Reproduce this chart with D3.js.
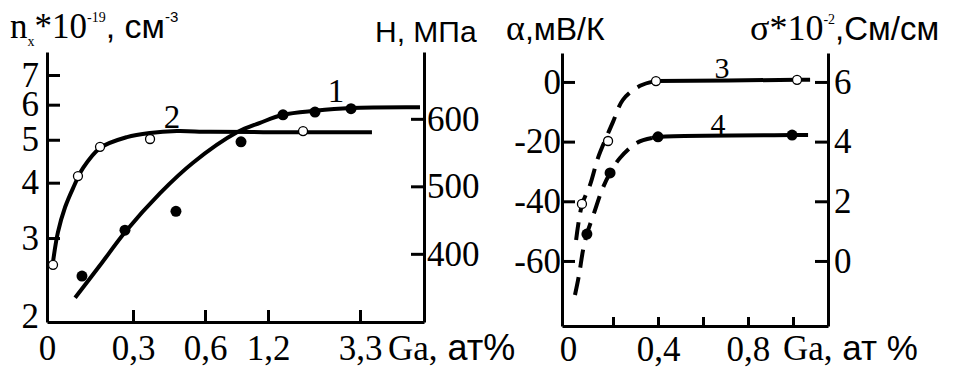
<!DOCTYPE html>
<html>
<head>
<meta charset="utf-8">
<script src="https://cdn.jsdelivr.net/npm/d3@7"></script>
<style>
  body { margin: 0; background: #fff; }
</style>
</head>
<body>
<div id="chart"></div>
<script>
var SERIF = '"Liberation Serif", "Times New Roman", serif';
var SANS = '"Liberation Sans", Arial, sans-serif';

// ---- left panel: n_x (curve 2) and H (curve 1) vs Ga, at%
var gaTicks = [0, 0.3, 0.6, 1.2, 3.3];
var gaTickLabels = ["0", "0,3", "0,6", "1,2", "3,3"];
var nTicks = [2, 3, 4, 5, 6, 7];
var hTicks = [400, 500, 600];

// curve 2: n_x*10^-19 (open circles)
var c2Ga = [0.021, 0.108, 0.185, 0.371, 2.0];
var c2N = [2.61, 4.14, 4.82, 5.02, 5.23];
var c2LineGa = [0.021, 0.038, 0.063, 0.091, 0.126, 0.185, 0.279, 0.371, 0.483, 0.648, 1.93, 3.58];
var c2LineN = [2.65, 3.09, 3.52, 3.89, 4.32, 4.79, 5.07, 5.18, 5.23, 5.21, 5.2, 5.2];

// curve 1: H, MPa (filled points)
var c1Ga = [0.122, 0.272, 0.479, 0.943, 1.542, 2.273, 3.095];
var c1H = [367, 435, 463, 566, 606, 610, 615];
var c1LineGa = [0.098, 0.185, 0.272, 0.413, 0.55, 0.905, 1.124, 1.542, 2.273, 3.095, 4.706];
var c1LineH = [335, 383, 432, 490, 535, 580, 594, 606, 612, 616, 617];

// ---- right panel: alpha (curve 4) and sigma (curve 3) vs Ga, at %
var ga2Ticks = [0, 0.2, 0.4, 0.6, 0.8, 1.0];
var ga2TickLabels = ["0", "", "0,4", "", "0,8", ""];
var alphaTicks = [0, -20, -40, -60];
var sigmaTicks = [0, 2, 4, 6];

// curve 3: sigma*10^-2 (open circles), dashed up to 0.391
var c3Ga = [0.062, 0.178, 0.391, 1.018];
var c3S = [1.91, 4.02, 6.03, 6.07];
var c3LineGa = [0.036, 0.062, 0.098, 0.133, 0.169, 0.2, 0.244, 0.32, 0.391, 1.018, 1.076];
var c3LineS = [0.7, 1.88, 2.55, 3.45, 4.12, 4.66, 5.4, 5.87, 6.03, 6.07, 6.07];
var c3DashEnd = 0.391;

// curve 4: alpha, mV/K (filled points), dashed up to 0.373
var c4Ga = [0.084, 0.187, 0.4, 0.996];
var c4A = [-51, -30.5, -18.4, -17.8];
var c4LineGa = [0.031, 0.049, 0.067, 0.084, 0.116, 0.151, 0.187, 0.231, 0.307, 0.373, 0.4, 0.996, 1.067];
var c4LineA = [-71.4, -64.7, -56.3, -51, -43.9, -36.2, -30.5, -25.5, -20.4, -18.8, -18.4, -17.8, -17.8];
var c4DashEnd = 0.373;

var svgWidth = 965, svgHeight = 376;
var lineW = 4, axisW = 3;

var svg = d3.select("#chart").append("svg")
  .attr("width", svgWidth)
  .attr("height", svgHeight);

// scales (the Ga axis of the left panel is piecewise, as in the original)
var xL = d3.scaleLinear().domain([0, 0.3, 0.6, 1.2, 3.3, 4.8]).range([47, 133, 205, 268, 360, 424]);
var yN = d3.scaleLog().domain([1.939, 7.89]).range([322, 52]);
var yH = d3.scaleLinear().domain([299, 699]).range([322, 52]);

var xR = d3.scaleLinear().domain([-0.0267, 1.1556]).range([562, 828]);
var yA = d3.scaleLinear().domain([-81.8, 9.7]).range([326, 53]);
var yS = d3.scaleLinear().domain([-2.18, 6.97]).range([326, 53]);

function styleAxis(g, size) {
  g.attr("font-family", null).attr("font-size", null);
  g.select(".domain").attr("stroke-width", axisW).attr("stroke", "#000");
  g.selectAll(".tick line").attr("stroke-width", axisW).attr("stroke", "#000");
  g.selectAll(".tick text")
    .style("font-family", SERIF)
    .style("font-size", size + "px")
    .attr("fill", "#000");
}

// plain hyphen for negatives, like the original
var plain = d => String(d);

// left panel axes
var axLeftN = svg.append("g").attr("transform", "translate(47,0)")
  .call(d3.axisLeft(yN).tickValues(nTicks).tickFormat(plain).tickSize(-13).tickSizeOuter(0).tickPadding(8));
styleAxis(axLeftN, 35);
axLeftN.selectAll(".tick").filter(d => d === 2).select("line").remove();

var axRightH = svg.append("g").attr("transform", "translate(424,0)")
  .call(d3.axisRight(yH).tickValues(hTicks).tickFormat(plain).tickSize(-13).tickSizeOuter(0).tickPadding(3));
styleAxis(axRightH, 35);

var axBottomL = svg.append("g").attr("transform", "translate(0,322)")
  .call(d3.axisBottom(xL).tickValues(gaTicks).tickFormat((d, i) => gaTickLabels[i]).tickSize(-12).tickSizeOuter(0).tickPadding(13));
styleAxis(axBottomL, 35);
axBottomL.selectAll(".tick").filter(d => d === 0).select("line").remove();

// right panel axes
var axLeftA = svg.append("g").attr("transform", "translate(562,0)")
  .call(d3.axisLeft(yA).tickValues(alphaTicks).tickFormat(plain).tickSize(-13).tickSizeOuter(0).tickPadding(1));
styleAxis(axLeftA, 35);

var axRightS = svg.append("g").attr("transform", "translate(828,0)")
  .call(d3.axisRight(yS).tickValues(sigmaTicks).tickFormat(plain).tickSize(-13).tickSizeOuter(0).tickPadding(6));
styleAxis(axRightS, 35);

var axBottomR = svg.append("g").attr("transform", "translate(0,326)")
  .call(d3.axisBottom(xR).tickValues(ga2Ticks).tickFormat((d, i) => ga2TickLabels[i]).tickSize(-9).tickSizeOuter(0).tickPadding(10));
styleAxis(axBottomR, 35);
axBottomR.selectAll(".tick").filter(d => d === 0).select("line").remove();

// curves
function drawLine(xs, ys, xScale, yScale, dashed) {
  var pts = xs.map((x, i) => [xScale(x), yScale(ys[i])]);
  svg.append("path")
    .datum(pts)
    .attr("d", d3.line().curve(d3.curveCatmullRom.alpha(0.5)))
    .attr("fill", "none")
    .attr("stroke", "#000")
    .attr("stroke-width", lineW)
    .attr("stroke-dasharray", dashed ? "18,10" : null);
}

function drawSplit(xs, ys, xScale, yScale, dashEnd) {
  var dIdx = xs.map((x, i) => i).filter(i => xs[i] <= dashEnd);
  var sIdx = xs.map((x, i) => i).filter(i => xs[i] >= dashEnd);
  drawLine(dIdx.map(i => xs[i]), dIdx.map(i => ys[i]), xScale, yScale, true);
  drawLine(sIdx.map(i => xs[i]), sIdx.map(i => ys[i]), xScale, yScale, false);
}

function drawPoints(xs, ys, xScale, yScale, open) {
  svg.append("g").selectAll("circle")
    .data(xs.map((x, i) => [x, ys[i]]))
    .enter()
    .append("circle")
    .attr("cx", d => xScale(d[0]))
    .attr("cy", d => yScale(d[1]))
    .attr("r", open ? 4.5 : 5.5)
    .attr("fill", open ? "#fff" : "#000")
    .attr("stroke", "#000")
    .attr("stroke-width", open ? 1.3 : 0);
}

drawLine(c2LineGa, c2LineN, xL, yN, false);
drawLine(c1LineGa, c1LineH, xL, yH, false);
drawPoints(c1Ga, c1H, xL, yH, false);
drawPoints(c2Ga, c2N, xL, yN, true);

drawSplit(c3LineGa, c3LineS, xR, yS, c3DashEnd);
drawSplit(c4LineGa, c4LineA, xR, yA, c4DashEnd);
drawPoints(c4Ga, c4A, xR, yA, false);
drawPoints(c3Ga, c3S, xR, yS, true);

// curve numbers
var curveNames = ["1", "2", "3", "4"];
var namePos = [[336, 102], [172, 128], [722, 78], [718, 134]];
var nameSize = [33, 33, 30, 30];
svg.append("g").selectAll("text")
  .data(curveNames)
  .enter()
  .append("text")
  .style("font-family", SERIF)
  .style("font-size", (d, i) => nameSize[i] + "px")
  .attr("text-anchor", "middle")
  .attr("x", (d, i) => namePos[i][0])
  .attr("y", (d, i) => namePos[i][1])
  .text(d => d);

// axis titles
function richText(x, y, parts) {
  var t = svg.append("text").attr("x", x).attr("y", y);
  parts.forEach(p => {
    t.append("tspan")
      .style("font-family", p.f)
      .style("font-size", p.s + "px")
      .attr("dy", p.dy || 0)
      .text(p.t);
  });
  return t;
}

richText(10, 38, [
  { t: "n", f: SERIF, s: 35 },
  { t: "x", f: SERIF, s: 14, dy: 8 },
  { t: "*10", f: SERIF, s: 35, dy: -8 },
  { t: "-19", f: SERIF, s: 14, dy: -16 },
  { t: ", см", f: SANS, s: 34, dy: 16 },
  { t: "-3", f: SANS, s: 15, dy: -16 }
]);
richText(375, 42, [{ t: "H, МПа", f: SANS, s: 30 }]);
richText(506, 40, [
  { t: "α", f: SERIF, s: 36 },
  { t: ",мВ/К", f: SANS, s: 32 }
]);
richText(750, 40, [
  { t: "σ*10", f: SERIF, s: 36 },
  { t: "-2", f: SERIF, s: 14, dy: -16 },
  { t: ",См/см", f: SANS, s: 33, dy: 16 }
]);
richText(388, 360, [
  { t: "Ga,", f: SERIF, s: 35 },
  { t: " ат%", f: SANS, s: 36 }
]);
richText(783, 360, [
  { t: "Ga,", f: SERIF, s: 35 },
  { t: " ат %", f: SANS, s: 35 }
]);
</script>
</body>
</html>
